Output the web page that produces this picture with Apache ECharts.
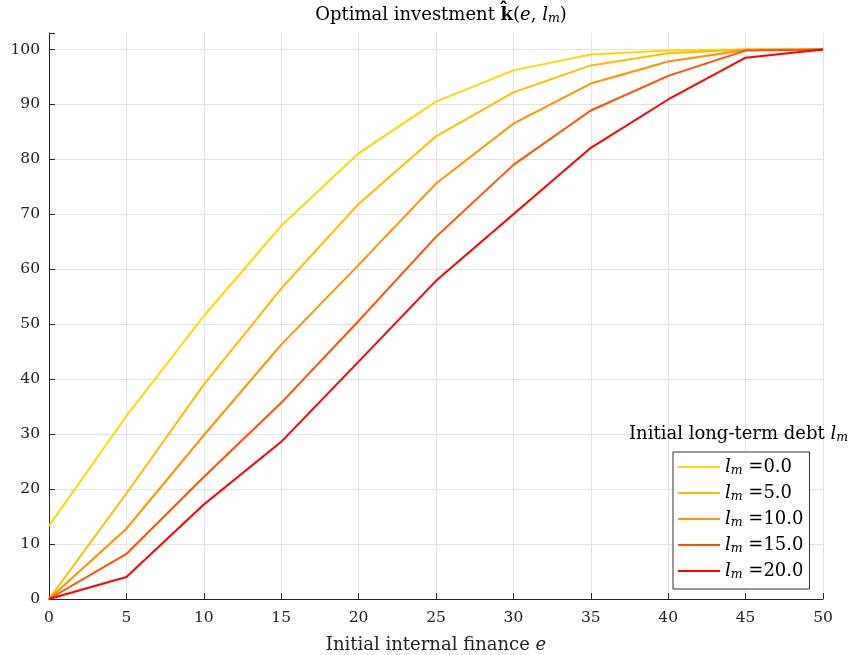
<!DOCTYPE html>
<html>
<head>
<meta charset="utf-8">
<script src="https://cdn.jsdelivr.net/npm/echarts@6/dist/echarts.min.js"></script>
<style>html,body{margin:0;padding:0;background:#fff}#c{width:854px;height:655px}</style>
</head>
<body>
<div id="c"></div>
<script>
const xValues = [0, 5, 10, 15, 20, 25, 30, 35, 40, 45, 50];
const lm0  = [13.3, 33.3, 51.5, 67.9, 81.1, 90.5, 96.2, 99.1, 99.8, 100, 100];
const lm5  = [0, 19.2, 39.0, 56.5, 71.9, 84.2, 92.2, 97.1, 99.3, 100, 100];
const lm10 = [0, 12.8, 29.8, 46.3, 60.8, 75.6, 86.5, 93.8, 97.8, 99.9, 100];
const lm15 = [0, 8.2, 22.2, 35.7, 50.6, 65.9, 79.0, 88.9, 95.2, 99.8, 100];
const lm20 = [0, 4.0, 17.2, 28.6, 43.2, 57.9, 70.0, 82.1, 90.9, 98.5, 100];
const seriesNames = ['0.0', '5.0', '10.0', '15.0', '20.0'];
const seriesValues = [lm0, lm5, lm10, lm15, lm20];
const colors = ['#FFD700', '#FFBB00', '#FF9100', '#FF5200', '#FF0000'];

const FONT = 'DejaVu Serif';
const FS = 18;
function richSet(color) {
  return {
    n: { fontFamily: FONT, fontSize: FS, fontWeight: 'normal', color: color, lineHeight: 20 },
    b: { fontFamily: FONT, fontSize: FS, fontWeight: 'bold', color: color, lineHeight: 20 },
    i: { fontFamily: FONT, fontSize: FS, fontWeight: 'normal', fontStyle: 'italic', color: color, lineHeight: 20 },
    s: { fontFamily: FONT, fontSize: 12.5, fontWeight: 'normal', fontStyle: 'italic', color: color, padding: [7, 0, 0, 0], lineHeight: 20 }
  };
}
const chart = echarts.init(document.getElementById('c'));
const gridColors = [];
for (let i = 0; i < 11; i++) gridColors.push('#e3e3e3');
gridColors.push('rgba(0,0,0,0)');

chart.setOption({
  animation: false,
  backgroundColor: '#fff',
  textStyle: { fontFamily: FONT },
  title: [{
    text: '{n|Optimal investment }{b|k\u0302}{n|(}{i|e}{n|, }{i|l}{s|m}{n|)}',
    left: 436, top: 0, textAlign: 'center',
    textStyle: { fontWeight: 'normal', rich: richSet('#000') }
  }, {
    text: '{n|Initial long-term debt }{i|l}{s|m}',
    right: 1, top: 419,
    textStyle: { fontWeight: 'normal', rich: richSet('#000') }
  }],
  legend: {
    orient: 'vertical',
    left: 673, top: 452,
    padding: [5, 6, 8, 5],
    itemGap: 6,
    itemWidth: 42,
    itemHeight: 16,
    borderColor: '#333', borderWidth: 1,
    backgroundColor: '#fff',
    data: seriesNames.map(n => ({ name: n, icon: 'path://M0,0 L42,0 L42,2 L0,2 Z' })),
    formatter: name => '{i|l}{s|m}{n| =' + name + '}',
    textStyle: { rich: richSet('#000') }
  },
  grid: { left: 49, right: 31, top: 33, bottom: 56, containLabel: false, outerBoundsMode: 'none' },
  xAxis: {
    type: 'value', min: 0, max: 50, interval: 5,
    name: '{n|Initial internal finance }{i|e}',
    nameLocation: 'middle', nameGap: 36,
    nameTextStyle: { rich: richSet('#222') },
    axisLine: { lineStyle: { color: '#262626', width: 1 } },
    axisTick: { inside: true, length: 6, lineStyle: { color: '#262626' } },
    axisLabel: { fontFamily: FONT, fontSize: 15.5, color: '#222', margin: 11 },
    splitLine: { show: true, lineStyle: { color: '#e3e3e3', width: 1 } }
  },
  yAxis: {
    type: 'value', min: 0, max: 103, interval: 10,
    axisLine: { show: true, lineStyle: { color: '#262626', width: 1 } },
    axisTick: { show: true, inside: true, length: 6, lineStyle: { color: '#262626' } },
    axisLabel: {
      fontFamily: FONT, fontSize: 15.5, color: '#222', margin: 9,
      formatter: v => (v % 10 === 0 ? String(v) : '')
    },
    splitLine: { show: true, lineStyle: { color: gridColors, width: 1 } }
  },
  series: seriesValues.map((vals, k) => ({
    name: seriesNames[k],
    type: 'line',
    symbol: 'none',
    data: xValues.map((x, i) => [x, vals[i]]),
    lineStyle: { color: colors[k], width: 2 },
    itemStyle: { color: colors[k] },
    z: 2 + k
  }))
});
</script>
</body>
</html>
